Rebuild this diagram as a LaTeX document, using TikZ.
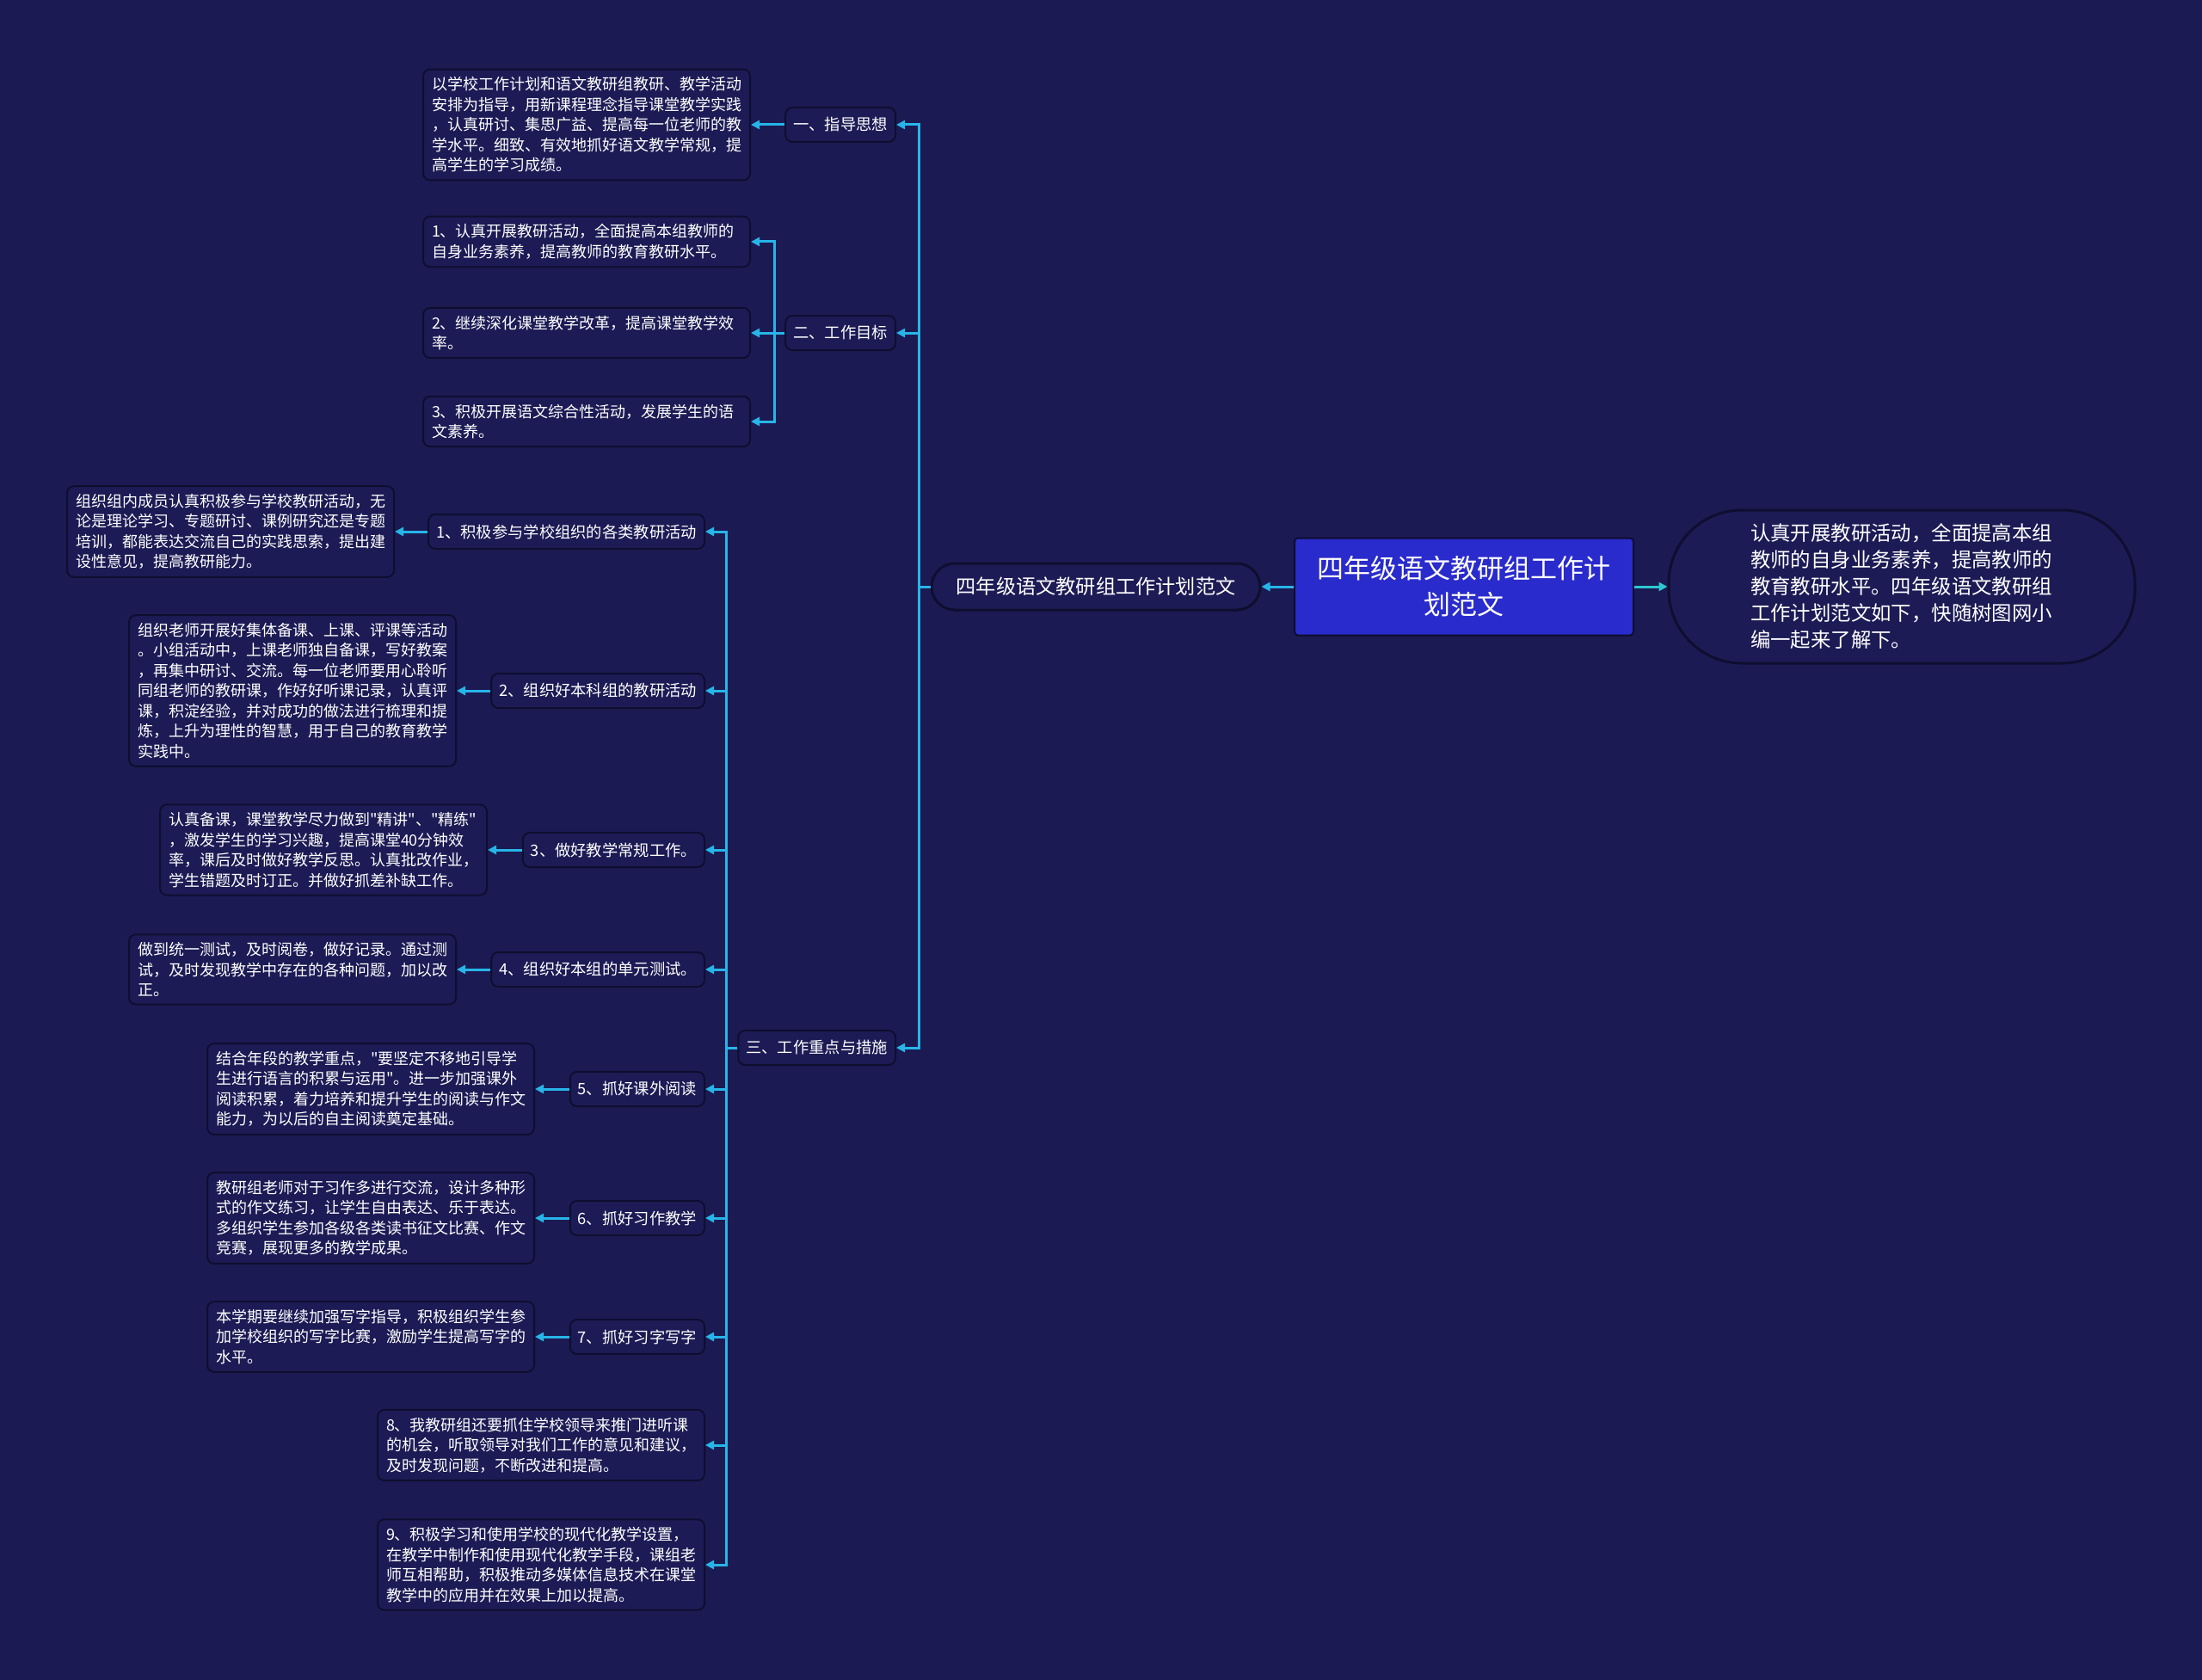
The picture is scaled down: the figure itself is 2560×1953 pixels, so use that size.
\documentclass[tikz,border=0pt]{standalone}
\usepackage{fontspec}
\newfontfamily\cjk{Noto Sans CJK SC}
\usetikzlibrary{arrows.meta}
\definecolor{bg}{HTML}{1B1A52}
\definecolor{nodefill}{HTML}{1C1B55}
\definecolor{bord}{HTML}{0E0E30}
\definecolor{rootc}{HTML}{2A2BCC}
\definecolor{conn}{HTML}{27B5E8}
\definecolor{conn2}{HTML}{2EC6D0}
\begin{document}
\begin{tikzpicture}[x=1pt,y=-1pt,
  box/.style={draw=bord, line width=2pt, fill=nodefill, rounded corners=8pt, text=white, align=left, inner xsep=10pt, inner ysep=9pt, font=\cjk\fontsize{18}{23.5}\selectfont, text width=360pt, anchor=east},
  lab/.style={draw=bord, line width=2pt, fill=nodefill, rounded corners=8pt, text=white, inner xsep=9pt, inner ysep=0pt, minimum height=40pt, font=\cjk\fontsize{18.3}{22}\selectfont, anchor=east},
  arr/.style={draw=conn, line width=3pt, -{Triangle[length=10pt,width=10pt]}},
  arrb/.style={draw=conn2, line width=3pt, -{Triangle[length=10pt,width=10pt]}},
]
\useasboundingbox (0,0) rectangle (2560,1953);
\fill[bg] (0,0) rectangle (2560,1953);

% central nodes
\node[draw=bord, line width=2pt, fill=rootc, rounded corners=4pt, text=white, align=center, minimum width=394pt, minimum height=113pt, text width=350pt, font=\cjk\fontsize{31}{42}\selectfont] (root) at (1702,682) {四年级语文教研组工作计\\划范文};
\node[draw=bord, line width=3pt, fill=nodefill, rounded corners=27pt, text=white, minimum width=382pt, minimum height=54pt, font=\cjk\fontsize{23.2}{28}\selectfont] (lm) at (1274,682) {四年级语文教研组工作计划范文};
\node[draw=bord, line width=3pt, fill=nodefill, rounded corners=85pt, text=white, align=left, minimum width=542pt, minimum height=178pt, text width=352pt, font=\cjk\fontsize{23.4}{31}\selectfont] (rt) at (2211,682) {认真开展教研活动，全面提高本组\\教师的自身业务素养，提高教师的\\教育教研水平。四年级语文教研组\\工作计划范文如下，快随树图网小\\编一起来了解下。};

% level 1
\node[lab] (n1) at (1042,145) {一、指导思想};
\node[lab] (n2) at (1042,387) {二、工作目标};
\node[lab] (n3) at (1042,1218) {三、工作重点与措施};

% children of n1
\node[box] (c1) at (873,145) {以学校工作计划和语文教研组教研、教学活动\\安排为指导，用新课程理念指导课堂教学实践\\，认真研讨、集思广益、提高每一位老师的教\\学水平。细致、有效地抓好语文教学常规，提\\高学生的学习成绩。};

% children of n2
\node[box] (g1) at (873,281) {1、认真开展教研活动，全面提高本组教师的\\自身业务素养，提高教师的教育教研水平。};
\node[box] (g2) at (873,387) {2、继续深化课堂教学改革，提高课堂教学效\\率。};
\node[box] (g3) at (873,490) {3、积极开展语文综合性活动，发展学生的语\\文素养。};

% children of n3
\node[lab] (t1) at (820,618) {1、积极参与学校组织的各类教研活动};
\node[lab] (t2) at (820,803) {2、组织好本科组的教研活动};
\node[lab] (t3) at (820,988) {3、做好教学常规工作。};
\node[lab] (t4) at (820,1127) {4、组织好本组的单元测试。};
\node[lab] (t5) at (820,1266) {5、抓好课外阅读};
\node[lab] (t6) at (820,1416) {6、抓好习作教学};
\node[lab] (t7) at (820,1554) {7、抓好习字写字};
\node[box] (b8) at (820,1680) {8、我教研组还要抓住学校领导来推门进听课\\的机会，听取领导对我们工作的意见和建议，\\及时发现问题，不断改进和提高。};
\node[box] (b9) at (820,1819) {9、积极学习和使用学校的现代化教学设置，\\在教学中制作和使用现代化教学手段，课组老\\师互相帮助，积极推动多媒体信息技术在课堂\\教学中的应用并在效果上加以提高。};

\node[box] (d1) at (459,618) {组织组内成员认真积极参与学校教研活动，无\\论是理论学习、专题研讨、课例研究还是专题\\培训，都能表达交流自己的实践思索，提出建\\设性意见，提高教研能力。};
\node[box] (d2) at (531,803) {组织老师开展好集体备课、上课、评课等活动\\。小组活动中，上课老师独自备课，写好教案\\，再集中研讨、交流。每一位老师要用心聆听\\同组老师的教研课，作好好听课记录，认真评\\课，积淀经验，并对成功的做法进行梳理和提\\炼，上升为理性的智慧，用于自己的教育教学\\实践中。};
\node[box] (d3) at (567,988) {认真备课，课堂教学尽力做到"精讲"、"精练"\\，激发学生的学习兴趣，提高课堂40分钟效\\率，课后及时做好教学反思。认真批改作业，\\学生错题及时订正。并做好抓差补缺工作。};
\node[box] (d4) at (531,1127) {做到统一测试，及时阅卷，做好记录。通过测\\试，及时发现教学中存在的各种问题，加以改\\正。};
\node[box] (d5) at (622,1266) {结合年段的教学重点，"要坚定不移地引导学\\生进行语言的积累与运用"。进一步加强课外\\阅读积累，着力培养和提升学生的阅读与作文\\能力，为以后的自主阅读奠定基础。};
\node[box] (d6) at (622,1416) {教研组老师对于习作多进行交流，设计多种形\\式的作文练习，让学生自由表达、乐于表达。\\多组织学生参加各级各类读书征文比赛、作文\\竞赛，展现更多的教学成果。};
\node[box] (d7) at (622,1554) {本学期要继续加强写字指导，积极组织学生参\\加学校组织的写字比赛，激励学生提高写字的\\水平。};

% connectors
\coordinate (sp) at (1068,682);
\coordinate (s2) at (900,387);
\coordinate (s3) at (844,1218);
\draw[arr] (root.west) -- (lm.east);
\draw[arrb] (root.east) -- (rt.west);
\foreach \n in {n1,n2,n3} \draw[arr] (lm.west) -- (sp) |- (\n.east);
\draw[arr] (n1.west) -- (c1.east);
\foreach \n in {g1,g2,g3} \draw[arr] (n2.west) -- (s2) |- (\n.east);
\foreach \n in {t1,t2,t3,t4,t5,t6,t7,b8,b9} \draw[arr] (n3.west) -- (s3) |- (\n.east);
\foreach \a/\b in {t1/d1,t2/d2,t3/d3,t4/d4,t5/d5,t6/d6,t7/d7} \draw[arr] (\a.west) -- (\b.east);
\end{tikzpicture}
\end{document}
